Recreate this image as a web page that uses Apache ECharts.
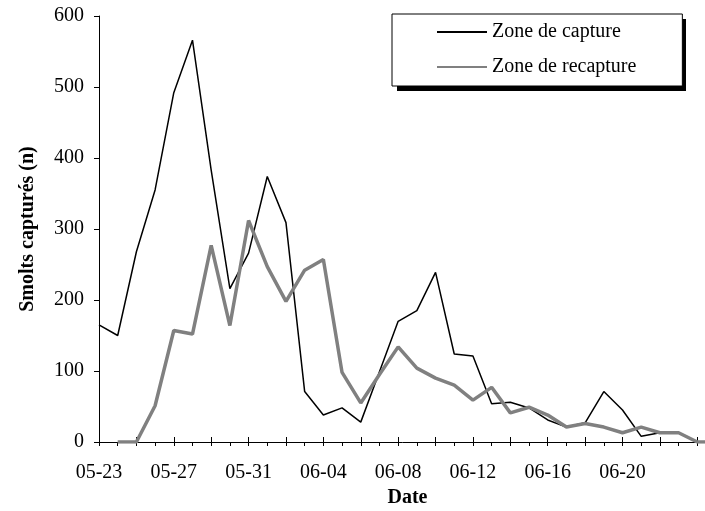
<!DOCTYPE html>
<html lang="fr">

<head>
    <meta charset="UTF-8">
    <script src="https://cdn.jsdelivr.net/npm/echarts@6/dist/echarts.min.js"></script>
    <style>
        * {
            margin: 0;
            padding: 0;
        }

        body {
            background-color: #fff;
        }

        #chart {
            width: 705px;
            height: 511px;
        }
    </style>
    <title>Smolts capturés</title>
</head>

<body>
    <div id="chart"></div>
</body>
<script>
    // dates (un point par jour)
    var dates = ['05-23', '05-24', '05-25', '05-26', '05-27', '05-28', '05-29', '05-30', '05-31',
        '06-01', '06-02', '06-03', '06-04', '06-05', '06-06', '06-07', '06-08', '06-09', '06-10',
        '06-11', '06-12', '06-13', '06-14', '06-15', '06-16', '06-17', '06-18', '06-19', '06-20',
        '06-21', '06-22', '06-23', '06-24', '06-25'];

    var capture = [165, 150, 268, 355, 492, 566, 383, 216, 266, 374, 309, 71, 38,
        48, 28, 99, 170, 185, 239, 124, 121, 54, 56, 48, 31, 21, 27, 71, 45, 8, 13, 13, 0, 0];

    var recapture = ['-', 0, 0, 51, 157, 152, 277, 164, 312, 247, 198, 242, 257,
        98, 55, 95, 134, 104, 90, 80, 59, 77, 41, 49, 38, 21, 26, 21, 13, 21, 13, 13, 0, 0];

    var yTicks = { min: 0, max: 600, step: 100 };

    var font = 'Liberation Serif';

    var myChart = echarts.init(document.getElementById('chart'));

    var option = {
        animation: false,
        backgroundColor: '#fff',
        grid: {
            left: 99,
            top: 16,
            bottom: 69,
            right: -11,
            outerBoundsMode: 'none'
        },
        // ombre de la légende
        graphic: [
            {
                type: 'rect',
                z: 1,
                shape: { x: 397, y: 19, width: 289, height: 72 },
                style: { fill: '#000' }
            }
        ],
        legend: {
            orient: 'vertical',
            left: 392,
            top: 14,
            z: 10,
            padding: [8, 46, 9, 44],
            itemWidth: 50,
            itemHeight: 14,
            itemGap: 15,
            backgroundColor: '#fff',
            borderColor: '#000',
            borderWidth: 1,
            itemStyle: { opacity: 0 },
            textStyle: {
                fontFamily: font,
                fontSize: 20,
                color: '#000'
            },
            data: ['Zone de capture', 'Zone de recapture']
        },
        xAxis: [
            {
                type: 'category',
                data: dates,
                boundaryGap: false,
                name: 'Date',
                nameLocation: 'middle',
                nameGap: 46,
                nameTextStyle: {
                    fontFamily: font,
                    fontSize: 20,
                    fontWeight: 'bold',
                    color: '#000'
                },
                axisLine: {
                    lineStyle: { color: '#000', width: 1 }
                },
                axisTick: {
                    interval: 0,
                    length: 4,
                    lineStyle: { color: '#000' }
                },
                axisLabel: {
                    // une étiquette tous les 4 jours, pas la dernière
                    interval: function (index) {
                        return index % 4 === 0 && index < 32;
                    },
                    margin: 21,
                    fontFamily: font,
                    fontSize: 20,
                    color: '#000'
                }
            },
            {
                // petites graduations vers l'intérieur
                type: 'category',
                data: dates,
                boundaryGap: false,
                position: 'bottom',
                axisLine: { show: false },
                axisLabel: { show: false },
                axisTick: {
                    inside: true,
                    interval: 1,
                    length: 5,
                    lineStyle: { color: '#000' }
                }
            }
        ],
        yAxis: {
            type: 'value',
            min: yTicks.min,
            max: yTicks.max,
            interval: yTicks.step,
            name: 'Smolts capturés (n)',
            nameLocation: 'middle',
            nameGap: 61,
            nameTextStyle: {
                fontFamily: font,
                fontSize: 20,
                fontWeight: 'bold',
                color: '#000'
            },
            splitLine: { show: false },
            axisLine: {
                show: true,
                lineStyle: { color: '#000', width: 1 }
            },
            axisTick: {
                show: true,
                length: 5,
                lineStyle: { color: '#000' }
            },
            axisLabel: {
                margin: 15,
                fontFamily: font,
                fontSize: 20,
                color: '#000'
            }
        },
        series: [
            {
                name: 'Zone de capture',
                type: 'line',
                data: capture,
                symbol: 'none',
                lineStyle: { color: '#000', width: 1.5 },
                itemStyle: { color: '#000' }
            },
            {
                name: 'Zone de recapture',
                type: 'line',
                data: recapture,
                symbol: 'none',
                lineStyle: { color: '#808080', width: 3.5 },
                itemStyle: { color: '#808080' }
            }
        ]
    };
    myChart.setOption(option);
</script>

</html>
